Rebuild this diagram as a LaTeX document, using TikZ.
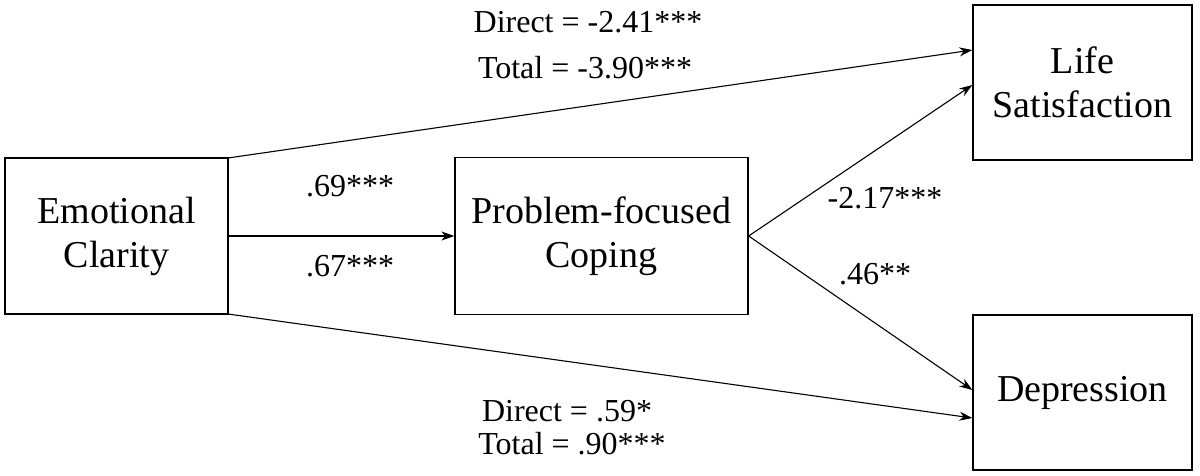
\documentclass[tikz,border=0pt]{standalone}
\usepackage{fontspec}
\setmainfont{Liberation Serif}
\usetikzlibrary{arrows.meta}
\begin{document}
\begin{tikzpicture}[x=1pt,y=-1pt,
  box/.style={draw,line width=1.3pt,inner sep=0pt,font=\fontsize{38}{44}\selectfont,align=center},
  lab/.style={font=\fontsize{32}{36}\selectfont,inner sep=0pt},
  arr/.style={line width=1.1pt,-{Stealth[length=13pt,width=9pt]}}]
\useasboundingbox (0,0) rectangle (1200,475);
\node[box,minimum width=223pt,minimum height=156pt] (ec) at (116.5,236) {Emotional\\Clarity};
\node[box,minimum width=293pt,minimum height=157pt] (pfc) at (601.5,236) {Problem-focused\\Coping};
\node[box,minimum width=219pt,minimum height=155pt] (ls) at (1082.5,82.5) {Life\\Satisfaction};
\node[box,minimum width=219pt,minimum height=155pt] (dep) at (1082.5,392.5) {Depression};
\coordinate (ecA) at (228,158);
\coordinate (ecB) at (228,314);
\draw[arr] (ec.east) -- (pfc.west);
\draw[arr] (ecA) -- (ls.west |- 0,50);
\draw[arr] (ecB) -- (dep.west |- 0,418);
\draw[arr] (pfc.east) -- (ls.west |- 0,85);
\draw[arr] (pfc.east) -- (dep.west |- 0,390);
\node[lab] (l1) at (588,22) {Direct = -2.41***};
\node[lab] (l2) at (585,68) {Total = -3.90***};
\node[lab] (l3) at (350,186) {.69***};
\node[lab] (l4) at (350,266) {.67***};
\node[lab] (l5) at (885,198) {-2.17***};
\node[lab] (l6) at (875,274) {.46**};
\node[lab] (l7) at (567,411) {Direct = .59*};
\node[lab] (l8) at (572,444) {Total = .90***};
\end{tikzpicture}
\end{document}
